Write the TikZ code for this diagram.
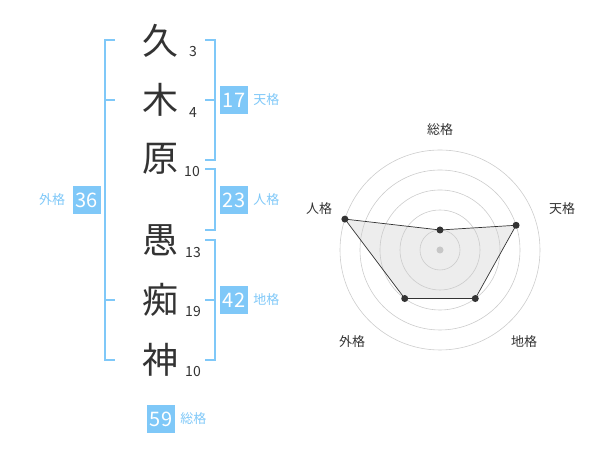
\documentclass[tikz,border=0pt]{standalone}
\usepackage{fontspec}
\setmainfont{Noto Sans CJK JP}
\usetikzlibrary{positioning,calc}
\definecolor{kaku}{HTML}{7FC8F8}
\definecolor{ink}{HTML}{333333}

\begin{document}
\begin{tikzpicture}[x=1pt,y=1pt,
	kanji/.style={text=ink,inner sep=0pt,font=\fontsize{36}{36}\selectfont},
	num/.style={text=ink,inner sep=0pt,font=\fontsize{14}{14}\selectfont},
	box/.style={fill=kaku,text=white,inner sep=0pt,minimum width=28pt,minimum height=28pt,font=\fontsize{20}{20}\selectfont},
	kakulabel/.style={text=kaku,inner sep=0pt,font=\fontsize{13}{13}\selectfont},
	brace/.style={draw=kaku,line width=2pt},
	ring/.style={draw=black!20,line width=0.6pt},
	axislabel/.style={text=ink,inner sep=0pt,font=\fontsize{13}{13}\selectfont},
	dot/.style={circle,fill=ink,inner sep=0pt,minimum size=7pt}]
	\useasboundingbox (0,0) rectangle (600,470);
	% name
	\node[kanji] (c1) at (160,429) {久};
	\node[kanji] (c2) at (160,370) {木};
	\node[kanji] (c3) at (160,311) {原};
	\node[kanji] (c4) at (160,230) {愚};
	\node[kanji] (c5) at (160,170) {痴};
	\node[kanji] (c6) at (160,110) {神};
	\node[num] (n1) at (193,418) {3};
	\node[num] (n2) at (193,357) {4};
	\node[num] (n3) at (192,298) {10};
	\node[num] (n4) at (193,217) {13};
	\node[num] (n5) at (193,158) {19};
	\node[num] (n6) at (193,98) {10};
	% brackets
	\draw[brace] (115,430) -- (105,430) -- (105,110) -- (115,110);
	\draw[brace] (105,370) -- (115,370);
	\draw[brace] (105,170) -- (115,170);
	\draw[brace] (205,430) -- (215,430) -- (215,310) -- (205,310);
	\draw[brace] (205,370) -- (215,370);
	\draw[brace] (205,301) -- (215,301) -- (215,240) -- (205,240);
	\draw[brace] (205,230) -- (215,230) -- (215,110) -- (205,110);
	\draw[brace] (205,170) -- (215,170);
	% scores
	\node[box] (b17) at (234,370) {17};
	\node[kakulabel, right=5pt of b17] (l17) {天格};
	\node[box] (b23) at (234,270) {23};
	\node[kakulabel, right=5pt of b23] (l23) {人格};
	\node[box] (b42) at (234,170) {42};
	\node[kakulabel, right=5pt of b42] (l42) {地格};
	\node[box] (b36) at (86.5,270) {36};
	\node[kakulabel, left=7pt of b36] (l36) {外格};
	\node[box] (b59) at (161,51) {59};
	\node[kakulabel, right=5pt of b59] (l59) {総格};
	% radar
	\coordinate (o) at (440,220);
	\coordinate (p1) at ($(o)+(90:20pt)$);
	\coordinate (p2) at ($(o)+(18:80pt)$);
	\coordinate (p3) at ($(o)+(-54:60pt)$);
	\coordinate (p4) at ($(o)+(-126:60pt)$);
	\coordinate (p5) at ($(o)+(162:100pt)$);
	\fill[black!7] (p1) -- (p2) -- (p3) -- (p4) -- (p5) -- cycle;
	\draw[ring] (o) circle (20pt) (o) circle (40pt) (o) circle (60pt) (o) circle (80pt) (o) circle (100pt);
	\draw[ink,line width=0.7pt] (p1) -- (p2) -- (p3) -- (p4) -- (p5) -- cycle;
	\node[dot] (d1) at (p1) {};
	\node[dot] (d2) at (p2) {};
	\node[dot] (d3) at (p3) {};
	\node[dot] (d4) at (p4) {};
	\node[dot] (d5) at (p5) {};
	\node[dot,fill=black!22] (d0) at (o) {};
	\node[axislabel] (a1) at (440,340) {総格};
	\node[axislabel] (a2) at (562,261) {天格};
	\node[axislabel] (a3) at (524,128) {地格};
	\node[axislabel] (a4) at (352,128) {外格};
	\node[axislabel] (a5) at (319,261) {人格};
\end{tikzpicture}
\end{document}
